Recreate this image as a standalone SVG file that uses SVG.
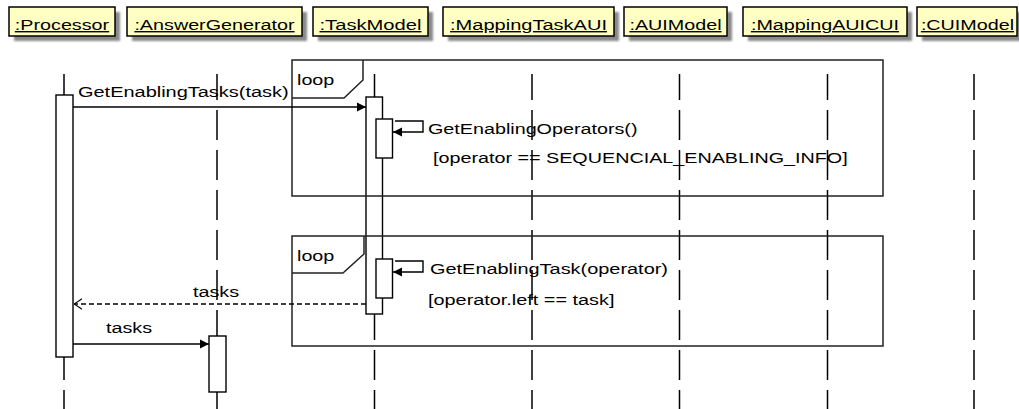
<svg xmlns="http://www.w3.org/2000/svg" width="1019" height="409" viewBox="0 0 1019 409">
  <style>
    text { font-family: "Liberation Sans", Arial, sans-serif; font-size: 14px; fill: #000; }
    .hdr { text-decoration: underline; text-anchor: middle; }
    .hbox { fill: #ffffc4; stroke: #000; stroke-width: 1.5; }
    .shadow { fill: #8a8a8a; filter: url(#blur); }
    .life { stroke: #000; stroke-width: 1.5; stroke-dasharray: 30 10; stroke-dashoffset: 4; fill: none; }
    .act { fill: #fff; stroke: #000; stroke-width: 1.4; }
    .frame { fill: none; stroke: #222; stroke-width: 1.5; }
    .msg { stroke: #000; stroke-width: 1.4; fill: none; }
    .ret { stroke: #000; stroke-width: 1.4; fill: none; stroke-dasharray: 5 3; }
  </style>
  <defs>
    <filter id="blur" x="-10%" y="-20%" width="120%" height="140%">
      <feGaussianBlur stdDeviation="1"/>
    </filter>
    <marker id="filled" viewBox="0 0 10 10" refX="10" refY="5" markerWidth="9" markerHeight="10" markerUnits="userSpaceOnUse" orient="auto">
      <path d="M0,0 L10,5 L0,10 z" fill="#000"/>
    </marker>
    <marker id="open" viewBox="0 0 10 14" refX="10" refY="7" markerWidth="8" markerHeight="12" markerUnits="userSpaceOnUse" orient="auto">
      <path d="M0,0.5 L10,7 L0,13.5" fill="none" stroke="#000" stroke-width="1.3"/>
    </marker>
  </defs>

  <rect width="1019" height="409" fill="#fff"/>

  <!-- Lifelines / participants -->
  <g id="processor">
    <rect class="shadow" x="14" y="12" width="106" height="29"/>
    <rect class="hbox" x="9" y="7" width="106" height="29"/>
    <text class="hdr" x="62" y="30" textLength="94.3" lengthAdjust="spacingAndGlyphs">:Processor</text>
    <line class="life" x1="64" y1="74" x2="64" y2="409"/>
    <rect class="act" x="56" y="95" width="17" height="262"/>
  </g>
  <g id="answergenerator">
    <rect class="shadow" x="132" y="12" width="175" height="29"/>
    <rect class="hbox" x="127" y="7" width="175" height="29"/>
    <text class="hdr" x="214.5" y="30" textLength="160.2" lengthAdjust="spacingAndGlyphs">:AnswerGenerator</text>
    <line class="life" x1="217" y1="74" x2="217" y2="409"/>
    <rect class="act" x="209" y="336" width="17" height="56"/>
  </g>
  <g id="taskmodel">
    <rect class="shadow" x="318" y="12" width="115" height="29"/>
    <rect class="hbox" x="313" y="7" width="115" height="29"/>
    <text class="hdr" x="370.5" y="30" textLength="102" lengthAdjust="spacingAndGlyphs">:TaskModel</text>
    <line class="life" x1="374.5" y1="74" x2="374.5" y2="409"/>
    <rect class="act" x="366" y="97" width="16.5" height="217"/>
    <rect class="act" x="376" y="119" width="16.5" height="39"/>
    <rect class="act" x="376" y="259" width="16.5" height="39"/>
  </g>
  <g id="mappingtaskaui">
    <rect class="shadow" x="448" y="12" width="171" height="29"/>
    <rect class="hbox" x="443" y="7" width="171" height="29"/>
    <text class="hdr" x="528.5" y="30" textLength="156.9" lengthAdjust="spacingAndGlyphs">:MappingTaskAUI</text>
    <line class="life" x1="532" y1="74" x2="532" y2="409"/>
  </g>
  <g id="auimodel">
    <rect class="shadow" x="629" y="12" width="103" height="29"/>
    <rect class="hbox" x="624" y="7" width="103" height="29"/>
    <text class="hdr" x="675.5" y="30" textLength="92.1" lengthAdjust="spacingAndGlyphs">:AUIModel</text>
    <line class="life" x1="679.5" y1="74" x2="679.5" y2="409"/>
  </g>
  <g id="mappingauicui">
    <rect class="shadow" x="748" y="12" width="164" height="29"/>
    <rect class="hbox" x="743" y="7" width="164" height="29"/>
    <text class="hdr" x="825" y="30" textLength="148.1" lengthAdjust="spacingAndGlyphs">:MappingAUICUI</text>
    <line class="life" x1="827.5" y1="74" x2="827.5" y2="409"/>
  </g>
  <g id="cuimodel">
    <rect class="shadow" x="922" y="12" width="100" height="29"/>
    <rect class="hbox" x="917" y="7" width="100" height="29"/>
    <text class="hdr" x="967.5" y="30" textLength="93.2" lengthAdjust="spacingAndGlyphs">:CUIModel</text>
    <line class="life" x1="974" y1="74" x2="974" y2="409"/>
  </g>

  <!-- Combined fragments -->
  <g id="loop1">
    <rect class="frame" x="292" y="60" width="591" height="136"/>
    <path class="frame" d="M292,98 H344 L363,80 V60"/>
    <text x="297" y="85" textLength="37.3" lengthAdjust="spacingAndGlyphs">loop</text>
    <text x="433" y="163" textLength="414.7" lengthAdjust="spacingAndGlyphs">[operator == SEQUENCIAL_ENABLING_INFO]</text>
  </g>
  <g id="loop2">
    <rect class="frame" x="292" y="236" width="591" height="110"/>
    <path class="frame" d="M292,273 H343 L364,254 V236"/>
    <text x="297" y="261" textLength="37.3" lengthAdjust="spacingAndGlyphs">loop</text>
    <text x="428" y="305" textLength="186.5" lengthAdjust="spacingAndGlyphs">[operator.left == task]</text>
  </g>

  <!-- Connectors -->
  <g id="connectors">
    <line class="msg" x1="73" y1="107" x2="366" y2="107" marker-end="url(#filled)"/>
    <text x="78" y="97" textLength="210.6" lengthAdjust="spacingAndGlyphs">GetEnablingTasks(task)</text>

    <path class="msg" d="M395,121 H423 V132 H393" marker-end="url(#filled)"/>
    <text x="428" y="134" textLength="209.5" lengthAdjust="spacingAndGlyphs">GetEnablingOperators()</text>

    <path class="msg" d="M395,261 H423 V272 H393" marker-end="url(#filled)"/>
    <text x="430" y="274" textLength="238" lengthAdjust="spacingAndGlyphs">GetEnablingTask(operator)</text>

    <line class="ret" x1="366" y1="304" x2="74" y2="304" marker-end="url(#open)"/>
    <text x="193" y="297" textLength="46.1" lengthAdjust="spacingAndGlyphs">tasks</text>

    <line class="msg" x1="73" y1="344" x2="209" y2="344" marker-end="url(#filled)"/>
    <text x="106" y="333" textLength="46.1" lengthAdjust="spacingAndGlyphs">tasks</text>
  </g>
</svg>
